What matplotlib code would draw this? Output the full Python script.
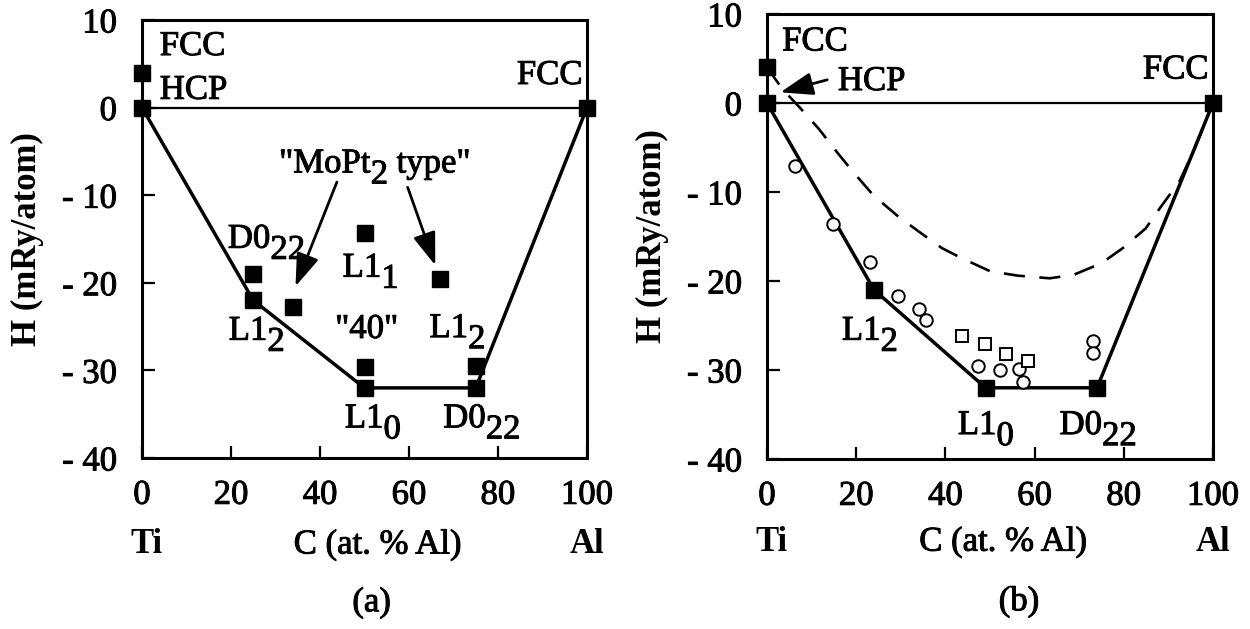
import matplotlib.pyplot as plt
import matplotlib.patheffects as pe

plt.rcParams['font.family'] = ['Liberation Serif', 'DejaVu Serif']
plt.rcParams['font.size'] = 25

# ---- panel (a): calculated structures ----
a_sq_x = [0, 0, 25, 25, 34, 50, 50, 50, 67, 75, 75, 100]
a_sq_y = [4, 0, -19, -22, -22.8, -14.3, -29.6, -32, -19.6, -29.5, -32, 0]
a_hull_x = [0, 25, 50, 75, 100]
a_hull_y = [0, -22, -32, -32, 0]

# ---- panel (b): ground states, experiment, disordered curve ----
b_sq_x = [0, 0, 24, 49, 74, 100]
b_sq_y = [4, 0, -21, -32, -32, 0]
b_hull_x = [0, 24, 49, 74, 100]
b_hull_y = [0, -21, -32, -32, 0]
b_circ_x = [6.3, 14.9, 23, 29.3, 34.1, 35.6, 47.3, 52.3, 56.4, 57.4, 73.2, 73.2]
b_circ_y = [-7.1, -13.6, -17.9, -21.7, -23.2, -24.4, -29.5, -30, -29.9, -31.4, -26.8, -28.1]
b_osq_x = [43.8, 48.8, 53.5, 58.6]
b_osq_y = [-26.2, -27.1, -28.2, -29.0]
b_dash_x = [0, 3.4, 7.5, 11.6, 15.8, 19.4, 23.9, 29.3, 33.9, 39.2, 43.5, 50, 56.2, 63.4,
            68.8, 75, 79.8, 84.9, 88.4, 92.5, 96, 100]
b_dash_y = [4, 1.6, -0.6, -2.9, -5.6, -7.8, -10.4, -12.7, -14.4, -16.3, -17.4, -18.9,
            -19.4, -19.7, -19.3, -18, -16.3, -14.1, -11.6, -8.8, -5, 0]

xticks = [0, 20, 40, 60, 80, 100]
yticks = [10, 0, -10, -20, -30, -40]
ytick_labels = ['10', '0', '- 10', '- 20', '- 30', '- 40']

DROP = 8  # subscript drop in points
PE = [pe.withStroke(linewidth=0.7, foreground='black')]  # heavier, scan-like text


def label(ax, x, y, parts):
    # parts: list of (text, is_subscript); subscripts are full size, just lowered
    t = ax.text(x, y, parts[0][0], ha='left', va='baseline', clip_on=False, path_effects=PE)
    prev = DROP if parts[0][1] else 0
    for s, sub in parts[1:]:
        d = DROP if sub else 0
        t = ax.annotate(s, xy=(1, 0), xycoords=t, xytext=(0, prev - d),
                        textcoords='offset points', ha='left', va='bottom', path_effects=PE)
        prev = d


def arrow(ax, tail, head):
    ax.annotate('', xy=head, xytext=tail,
                arrowprops=dict(arrowstyle='-|>,head_length=1.0,head_width=0.35',
                                mutation_scale=20, lw=2, color='black',
                                shrinkA=0, shrinkB=0))


def setup(ax, row_y, tag_y, tag_x, tag):
    ax.set_xlim(0, 100)
    ax.set_ylim(-40, 10)
    for s in ax.spines.values():
        s.set_linewidth(2.2)
    ax.set_xticks(xticks)
    ax.set_yticks(yticks)
    ax.set_yticklabels(ytick_labels)
    ax.tick_params(direction='in', length=9, width=1.6, top=False, right=False)
    ax.tick_params(axis='x', pad=15)
    ax.tick_params(axis='y', pad=18)
    for t in ax.get_xticklabels() + ax.get_yticklabels():
        t.set_path_effects(PE)
    ax.set_ylabel('H (mRy/atom)', fontweight='bold', fontsize=25)
    ax.yaxis.set_label_coords(-0.22, 0.5)
    ax.plot([0, 100], [0, 0], color='black', lw=1.6)
    ax.text(1, row_y, 'Ti', ha='center', va='baseline', fontweight='bold', clip_on=False)
    ax.text(53, row_y, 'C (at. % Al)', ha='center', va='baseline', clip_on=False,
            path_effects=PE)
    ax.text(100, row_y, 'Al', ha='center', va='baseline', fontweight='bold', clip_on=False)
    ax.text(tag_x, tag_y, tag, ha='center', va='baseline', clip_on=False, path_effects=PE)


def txt(ax, x, y, s, ha='left'):
    ax.text(x, y, s, ha=ha, va='baseline', path_effects=PE)


fig = plt.figure(figsize=(12.5, 6.29), dpi=100)
ax1 = fig.add_axes([0.1136, 0.2719, 0.356, 0.6963])
ax2 = fig.add_axes([0.6136, 0.2703, 0.3568, 0.7075])

# (a)
setup(ax1, -50.9, -57.5, 51.6, '(a)')
ax1.plot(a_hull_x, a_hull_y, color='black', lw=2.5)
ax1.plot(a_sq_x, a_sq_y, 's', color='black', ms=11, clip_on=False, zorder=5)
txt(ax1, 4, 6.0, 'FCC')
txt(ax1, 4, 1.0, 'HCP')
txt(ax1, 99, 2.7, 'FCC', ha='right')
label(ax1, 30.8, -7.4, [('"MoPt', False), ('2', True), (' type"', False)])
arrow(ax1, (43.8, -8.5), (34.5, -20.4))
arrow(ax1, (59.7, -9.1), (65.9, -18.0))
label(ax1, 19.3, -16.0, [('D0', False), ('22', True)])
label(ax1, 45.1, -19.3, [('L1', False), ('1', True)])
label(ax1, 19.5, -26.5, [('L1', False), ('2', True)])
txt(ax1, 43.4, -26.3, '"40"')
label(ax1, 64.6, -26.2, [('L1', False), ('2', True)])
label(ax1, 45.6, -36.5, [('L1', False), ('0', True)])
label(ax1, 67.7, -36.5, [('D0', False), ('22', True)])

# (b)
setup(ax2, -50.3, -57.0, 56.5, '(b)')
ax2.plot(b_dash_x, b_dash_y, color='black', lw=1.9, dashes=(8, 5.5))
ax2.plot(b_hull_x, b_hull_y, color='black', lw=2.5)
ax2.plot(b_circ_x, b_circ_y, 'o', mfc='white', mec='black', mew=1.4, ms=9, zorder=4)
ax2.plot(b_osq_x, b_osq_y, 's', mfc='white', mec='black', mew=1.4, ms=8.5, zorder=4)
ax2.plot(b_sq_x, b_sq_y, 's', color='black', ms=11, clip_on=False, zorder=5)
txt(ax2, 3.4, 5.9, 'FCC')
txt(ax2, 15.9, 1.45, 'HCP')
arrow(ax2, (13.5, 2.6), (3.0, 1.2))
txt(ax2, 99, 2.75, 'FCC', ha='right')
label(ax2, 16.8, -26.6, [('L1', False), ('2', True)])
label(ax2, 42.8, -37.2, [('L1', False), ('0', True)])
label(ax2, 65.6, -37.2, [('D0', False), ('22', True)])

fig.savefig('out.png', dpi=100)
